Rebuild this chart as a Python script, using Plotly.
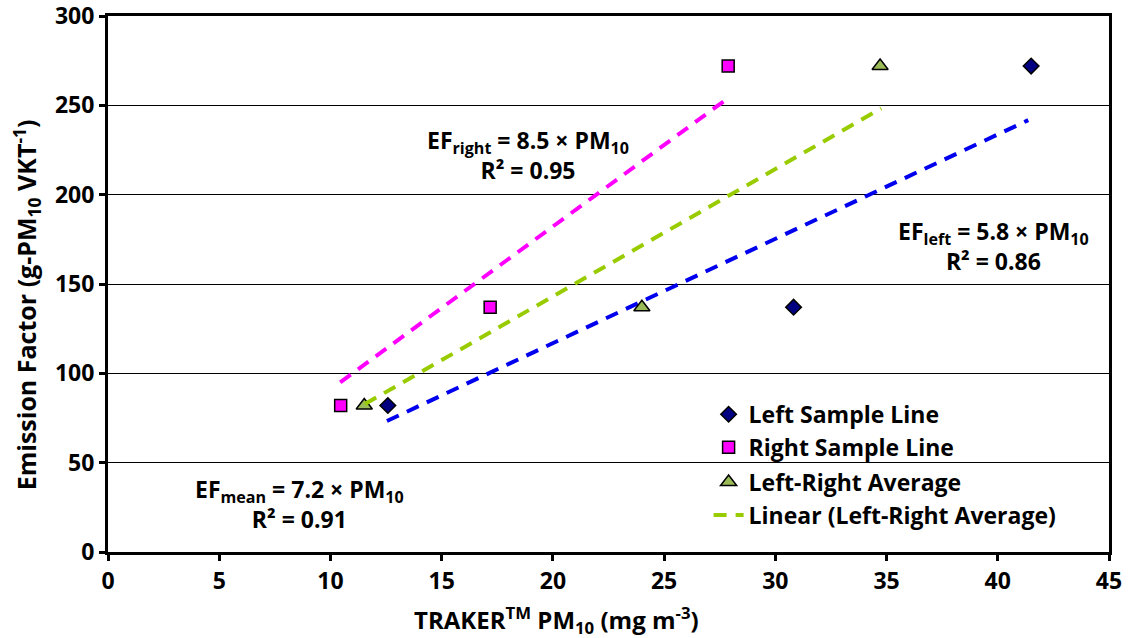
import plotly.graph_objects as go

# Data
ef_values = [82, 137, 272]                    # Emission factor (g-PM10 VKT-1)
left_pm10 = [12.58, 30.82, 41.5]              # Left sample line PM10
right_pm10 = [10.46, 17.18, 27.88]            # Right sample line PM10
avg_pm10 = [11.52, 24.0, 34.71]               # Left-right average PM10

# Trend lines (end points)
trend_right_x = [10.44, 27.74]
trend_right_y = [95.0, 252.8]
trend_avg_x = [11.55, 34.76]
trend_avg_y = [82.8, 248.3]
trend_left_x = [12.54, 41.37]
trend_left_y = [73.3, 241.7]

x_ticks = [0, 5, 10, 15, 20, 25, 30, 35, 40, 45]
y_ticks = [0, 50, 100, 150, 200, 250, 300]

FONT = "Open Sans"
FS = 23
DASH = "13px,9px"

fig = go.Figure()

# trend lines not in legend
fig.add_trace(go.Scatter(x=trend_right_x, y=trend_right_y, mode="lines",
                         line=dict(color="#FF00FF", width=4, dash=DASH),
                         showlegend=False, hoverinfo="skip"))
fig.add_trace(go.Scatter(x=trend_left_x, y=trend_left_y, mode="lines",
                         line=dict(color="#0000EE", width=4, dash=DASH),
                         showlegend=False, hoverinfo="skip"))

fig.add_trace(go.Scatter(x=left_pm10, y=ef_values, mode="markers", name="Left Sample Line",
                         legendgroup="a",
                         marker=dict(symbol="diamond", size=12, color="#000080",
                                     line=dict(color="black", width=1.5))))
fig.add_trace(go.Scatter(x=right_pm10, y=ef_values, mode="markers", name="Right Sample Line",
                         legendgroup="a",
                         marker=dict(symbol="square", size=12, color="#FF00FF",
                                     line=dict(color="black", width=1.5))))
fig.add_trace(go.Scatter(x=avg_pm10, y=ef_values, mode="markers", name="Left-Right Average",
                         legendgroup="b",
                         marker=dict(symbol="triangle-up", size=14, color="#9BBB59",
                                     line=dict(color="black", width=1.5))))
fig.add_trace(go.Scatter(x=trend_avg_x, y=trend_avg_y, mode="lines",
                         name="Linear (Left-Right Average)", legendgroup="b",
                         line=dict(color="#99CC00", width=4, dash=DASH)))

annots = [
    dict(x=18.9, y=222, text="EF<sub>right</sub> = 8.5 × PM<sub>10</sub><br>R² = 0.95"),
    dict(x=39.8, y=171, text="EF<sub>left</sub> = 5.8 × PM<sub>10</sub><br>R² = 0.86"),
    dict(x=8.6, y=27, text="EF<sub>mean</sub> = 7.2 × PM<sub>10</sub><br>R² = 0.91"),
]
for a in annots:
    fig.add_annotation(x=a["x"], y=a["y"], xref="x", yref="y", text=a["text"],
                       showarrow=False, align="center",
                       font=dict(family=FONT, size=FS, color="black", weight="bold"))

# Axis titles as annotations (positioned like the reference)
fig.add_annotation(x=-0.081, y=0.462, xref="paper", yref="paper", textangle=-90,
                   text="Emission Factor (g-PM<sub>10</sub> VKT<sup>-1</sup>)",
                   showarrow=False, xanchor="center", yanchor="middle",
                   font=dict(family=FONT, size=25, color="black", weight="bold"))
fig.add_annotation(x=0.4476, y=-0.126, xref="paper", yref="paper",
                   text="TRAKER<sup>TM</sup> PM<sub>10</sub> (mg m<sup>-3</sup>)",
                   showarrow=False, xanchor="center", yanchor="middle",
                   font=dict(family=FONT, size=24, color="black", weight="bold"))

fig.update_layout(
    width=1131, height=638,
    margin=dict(l=108, r=22, t=16, b=86, autoexpand=False),
    paper_bgcolor="white", plot_bgcolor="white",
    font=dict(family=FONT, size=FS, color="black", weight="bold"),
    legend=dict(x=0.6, y=0.297, xanchor="left", yanchor="top",
                bgcolor="rgba(0,0,0,0)", traceorder="grouped", tracegroupgap=2,
                font=dict(family=FONT, size=FS, color="black", weight="bold")),
    xaxis=dict(range=[0, 45], tickvals=x_ticks, ticks="outside", ticklen=6, tickwidth=2.5,
               tickcolor="black", showline=True, linecolor="black", linewidth=3, mirror=True,
               showgrid=False, zeroline=False, automargin=False, ticklabeloverflow="allow",
               tickfont=dict(family=FONT, size=FS, weight="bold")),
    yaxis=dict(range=[0, 300], tickvals=y_ticks, ticks="outside", ticklen=6, tickwidth=2.5,
               tickcolor="black", showline=True, linecolor="black", linewidth=3, mirror=True,
               showgrid=True, gridcolor="black", gridwidth=1.2, zeroline=False, automargin=False,
               ticklabeloverflow="allow",
               tickfont=dict(family=FONT, size=FS, weight="bold")),
)

fig.write_html("out.html")
